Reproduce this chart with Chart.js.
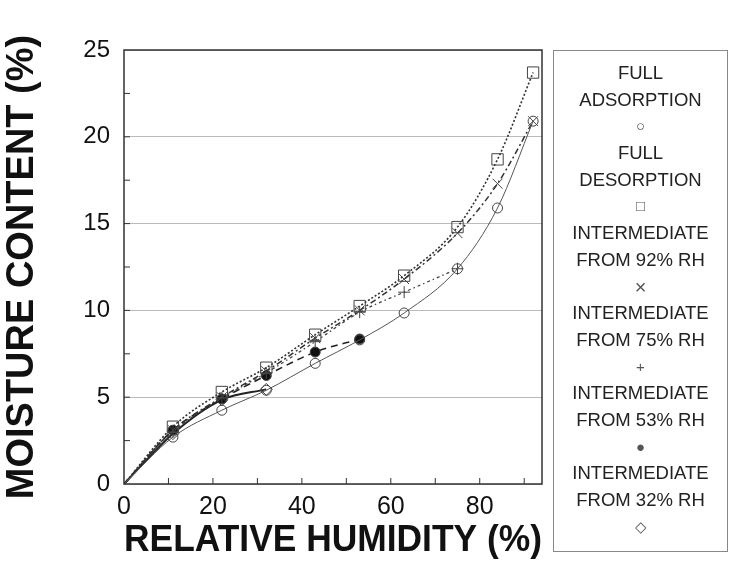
<!DOCTYPE html>
<html>
<head>
<meta charset="utf-8">
<script src="https://cdn.jsdelivr.net/npm/chart.js@4/dist/chart.umd.min.js"></script>
<style>
    body { margin: 0; background: #fff; }
    #wrap { position: relative; width: 745px; height: 563px; }
    #legend {
        position: absolute; left: 553px; top: 50px; width: 175px; height: 502px;
        border: 1px solid #888; box-sizing: border-box;
        font-family: 'Liberation Sans', Arial, sans-serif; font-size: 18.5px; color: #222;
        text-align: center; padding-top: 9px;
    }
    #legend div { height: 26.7px; line-height: 26.7px; white-space: nowrap; }
    #legend .sym { color: #555; font-size: 15px; }
    #legend .sym.big { font-size: 20px; }
</style>
</head>
<body>
<div id="wrap">
    <canvas id="isoChart" width="745" height="563"></canvas>
    <div id="legend"></div>
</div>
<script>
// relative humidity levels (%) – 0 is the common origin of every curve
const rh = [0, 11, 22, 32, 43, 53, 63, 75, 84, 92];

const fullAdsorption = [0, 2.7, 4.25, 5.4, 6.95, 8.3, 9.85, 12.4, 15.9, 20.9];
const fullDesorption = [0, 3.3, 5.3, 6.7, 8.6, 10.25, 12.0, 14.8, 18.7, 23.7];
const from92 = [0, 3.1, 5.0, 6.5, 8.4, 10.0, 11.8, 14.45, 17.3, 20.9];
const from75 = [0, 3.0, 4.95, 6.4, 8.2, 9.9, 11.05, 12.4];
const from53 = [0, 3.1, 4.9, 6.25, 7.6, 8.35];
const from32 = [0, 2.9, 4.85, 5.45];

const labels = [
    ['FULL', 'ADSORPTION'],
    ['FULL', 'DESORPTION'],
    ['INTERMEDIATE', 'FROM 92% RH'],
    ['INTERMEDIATE', 'FROM 75% RH'],
    ['INTERMEDIATE', 'FROM 53% RH'],
    ['INTERMEDIATE', 'FROM 32% RH'],
];
const symbols = ['○', '□', '×', '+', '●', '◇'];

const yMinorTicks = [2.5, 5, 7.5, 10, 12.5, 15, 17.5, 20, 22.5];
const xMinorTicks = [10, 20, 30, 40, 50, 60, 70, 80, 90];

const pts = (ys) => ys.map((y, i) => ({ x: rh[i], y }));
const hideOrigin = (r) => (ctx) => (ctx.dataIndex === 0 ? 0 : r);

function series(label, ys, style, marker, radius, dash, width, fill) {
    return {
        label,
        data: pts(ys),
        borderColor: style,
        borderWidth: width,
        borderDash: dash,
        pointStyle: marker,
        pointRadius: hideOrigin(radius),
        pointBorderColor: '#444',
        pointBorderWidth: 1,
        pointBackgroundColor: fill,
        cubicInterpolationMode: 'monotone',
        fill: false,
    };
}

const frameTicks = {
    id: 'frameTicks',
    afterDraw(chart) {
        const { ctx, chartArea: a, scales: { x, y } } = chart;
        ctx.save();
        ctx.strokeStyle = '#333';
        ctx.lineWidth = 1;
        ctx.beginPath();
        yMinorTicks.forEach((v) => {
            const py = y.getPixelForValue(v);
            ctx.moveTo(a.left, py);
            ctx.lineTo(a.left + 6, py);
        });
        xMinorTicks.forEach((v) => {
            const px = x.getPixelForValue(v);
            ctx.moveTo(px, a.bottom);
            ctx.lineTo(px, a.bottom - 6);
        });
        ctx.stroke();
        ctx.lineWidth = 1.5;
        ctx.strokeRect(a.left, a.top, a.right - a.left, a.bottom - a.top);
        ctx.restore();
    },
};

const font = 'Liberation Sans, Arial, sans-serif';

new Chart(document.getElementById('isoChart'), {
    type: 'line',
    data: {
        datasets: [
            series(labels[0].join(' '), fullAdsorption, '#555', 'circle', 5, [], 1, 'rgba(255,255,255,0)'),
            series(labels[1].join(' '), fullDesorption, '#333', 'rect', 8, [2, 2], 1.6, 'rgba(255,255,255,0)'),
            series(labels[2].join(' '), from92, '#333', 'crossRot', 7, [6, 3, 2, 3], 1.5, 'rgba(255,255,255,0)'),
            series(labels[3].join(' '), from75, '#444', 'cross', 6, [3, 3, 1.5, 3], 1.3, 'rgba(255,255,255,0)'),
            series(labels[4].join(' '), from53, '#222', 'circle', 5, [7, 5], 1.6, '#111'),
            series(labels[5].join(' '), from32, '#222', 'rectRot', 6, [], 2, 'rgba(255,255,255,0)'),
        ],
    },
    options: {
        responsive: false,
        animation: false,
        layout: { padding: { left: 0, right: 203, top: 50, bottom: 0 } },
        plugins: { legend: { display: false }, tooltip: { enabled: false } },
        scales: {
            x: {
                type: 'linear',
                min: 0,
                max: 94,
                afterFit: (s) => { s.height = 79; },
                grid: { display: false, drawTicks: false },
                border: { display: false },
                ticks: {
                    stepSize: 20,
                    includeBounds: false,
                    padding: 8,
                    color: '#111',
                    font: { family: font, size: 25 },
                },
                title: {
                    display: true,
                    text: 'RELATIVE HUMIDITY (%)',
                    color: '#111',
                    padding: 0,
                    font: { family: font, size: 37, weight: 'bold' },
                },
            },
            y: {
                min: 0,
                max: 25,
                afterFit: (s) => { s.width = 124; },
                grid: { color: '#bbb', drawTicks: false },
                border: { display: false },
                ticks: {
                    stepSize: 5,
                    padding: 14,
                    color: '#111',
                    font: { family: font, size: 24 },
                },
                title: {
                    display: true,
                    text: 'MOISTURE CONTENT (%)',
                    color: '#111',
                    padding: 0,
                    font: { family: font, size: 38, weight: 'bold' },
                },
            },
        },
    },
    plugins: [frameTicks],
});

const legendBox = document.getElementById('legend');
labels.forEach((lines, i) => {
    lines.forEach((t) => {
        const d = document.createElement('div');
        d.textContent = t;
        legendBox.appendChild(d);
    });
    const s = document.createElement('div');
    s.className = symbols[i] === '×' ? 'sym big' : 'sym';
    s.textContent = symbols[i];
    legendBox.appendChild(s);
});
</script>
</body>
</html>
